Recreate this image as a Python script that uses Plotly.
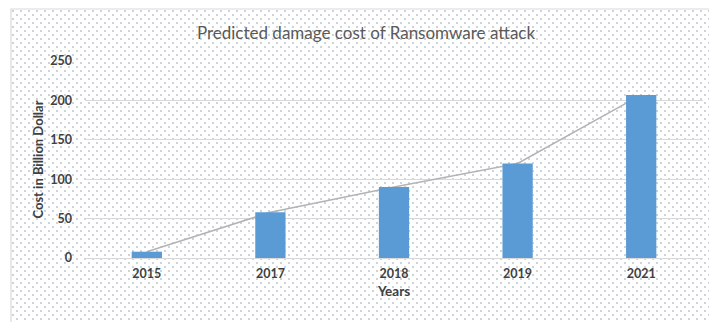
import plotly.graph_objects as go
import base64

years = ["2015", "2017", "2018", "2019", "2021"]
cost = [8, 58, 90, 120, 207]
y_ticks = [0, 50, 100, 150, 200, 250]

W, H = 709, 322
ml, mr, mt, mb = 85, 6, 61, 64
pw, ph = W - ml - mr, H - mt - mb

# dotted background pattern (style only)
fx0, fy0 = 11, 9
fw, fh = 720 - fx0, 340 - fy0
svg = f'''<svg xmlns="http://www.w3.org/2000/svg" width="{fw}" height="{fh}" viewBox="0 0 {fw} {fh}">
<defs><pattern id="p" width="8" height="8" patternUnits="userSpaceOnUse">
<circle cx="2" cy="2" r="0.9" fill="#b4c0c9"/><circle cx="6" cy="6" r="0.9" fill="#b4c0c9"/>
</pattern></defs><rect width="{fw}" height="{fh}" fill="url(#p)"/></svg>'''
src = "data:image/svg+xml;base64," + base64.b64encode(svg.encode()).decode()

def px_x(p):
    return (p - ml) / pw

def px_y(p):
    return (H - mb - p) / ph

fig = go.Figure()
# line on the base subplot, bars on the overlaying subplot (drawn above the line)
fig.add_trace(go.Scatter(x=years, y=cost, mode="lines", xaxis="x", yaxis="y",
                         line=dict(color="#b3b3b3", width=1.5), hoverinfo="skip"))
fig.add_trace(go.Bar(x=years, y=cost, xaxis="x2", yaxis="y2",
                     marker=dict(color="#5b9bd5", line=dict(width=0)), width=0.245))

tf = dict(size=12.5, color="#404040", family="Lato, sans-serif", weight="bold")
fig.update_layout(
    width=W, height=H,
    margin=dict(l=ml, r=mr, t=mt, b=mb),
    paper_bgcolor="white", plot_bgcolor="rgba(0,0,0,0)",
    showlegend=False,
    font=dict(family="Lato, Liberation Sans, sans-serif", color="#404040"),
    title=dict(text="Predicted damage cost of Ransomware attack",
               x=(366) / W, xanchor="center", y=1 - 33 / H, yanchor="middle",
               font=dict(size=17, color="#595959", family="Lato, sans-serif")),
    images=[dict(source=src, xref="paper", yref="paper",
                 x=px_x(fx0), y=px_y(fy0), sizex=fw / pw, sizey=fh / ph,
                 xanchor="left", yanchor="top", sizing="stretch", layer="below")],
    shapes=[dict(type="rect", xref="paper", yref="paper",
                 x0=px_x(fx0), x1=px_x(740), y0=px_y(fy0), y1=px_y(360),
                 line=dict(color="#d9d9d9", width=1.2), fillcolor="rgba(0,0,0,0)",
                 layer="below")],
    xaxis=dict(type="category", categoryarray=years, showgrid=False, showline=False,
               zeroline=False, ticks="", ticklabelstandoff=6, tickfont=tf,
               title=dict(text="Years", standoff=7,
                          font=dict(size=13.5, color="#404040", family="Lato, sans-serif", weight="bold"))),
    yaxis=dict(range=[0, 250], tickvals=y_ticks, showgrid=True, gridcolor="#d9d9d9",
               gridwidth=1, zeroline=True, zerolinecolor="#d9d9d9", zerolinewidth=1,
               showline=False, ticks="", ticklabelstandoff=12, tickfont=tf,
               title=dict(text="Cost in Billion Dollar", standoff=3,
                          font=dict(size=13, color="#404040", family="Lato, sans-serif", weight="bold"))),
    xaxis2=dict(type="category", categoryarray=years, overlaying="x", matches="x",
                visible=False),
    yaxis2=dict(range=[0, 250], overlaying="y", visible=False),
)

fig.write_html("out.html")
